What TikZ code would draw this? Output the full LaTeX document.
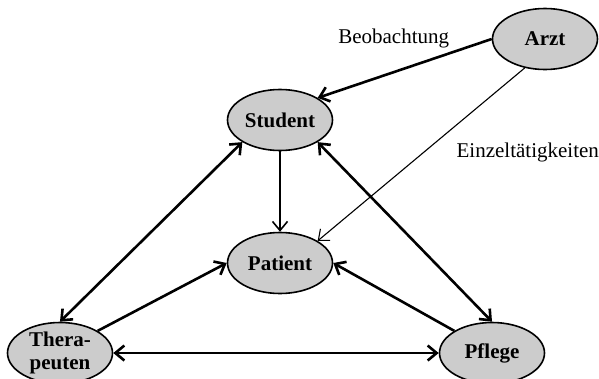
\documentclass[tikz,border=0pt]{standalone}
\usepackage{fontspec}
\setmainfont{Liberation Serif}
\usetikzlibrary{arrows.meta,shapes.geometric}

\begin{document}
\begin{tikzpicture}[x=1pt,y=-1pt,
    >={Straight Barb[length=9pt,width=15pt]},
    rolle/.style={ellipse,draw,line width=1.6pt,fill=black!20,
      minimum width=105pt,minimum height=61pt,inner sep=0pt,
      font=\fontsize{21}{23}\selectfont\bfseries,align=center},
    pfeil/.style={line width=2.6pt},
    beschr/.style={font=\fontsize{21}{22}\selectfont,inner sep=3pt}]
  \useasboundingbox (0,0) rectangle (599,378);

  \node[rolle] (arzt)    at (545,39)  {Arzt};
  \node[rolle] (student) at (280,120) {Student};
  \node[rolle] (patient) at (280,263) {Patient};
  \node[rolle] (therap)  at (60,353)  {Thera-\\peuten};
  \node[rolle] (pflege)  at (492,353) {Pflege};

  \draw[pfeil,->] (arzt.west) -- node[beschr,pos=0.22,anchor=south east] {Beobachtung} (student.north east);
  \draw[line width=1.1pt,->] (arzt.235) -- node[beschr,pos=0.486,anchor=west,xshift=29pt] {Einzeltätigkeiten} (patient.north east);
  \draw[line width=1.6pt,->] (student) -- (patient);

  \draw[pfeil,<->] (student.south west) -- (therap.north);
  \draw[pfeil,<->] (student.south east) -- (pflege.north);
  \draw[pfeil,<->] (therap) -- (pflege);

  \draw[pfeil,->] (therap.north east) -- (patient.west);
  \draw[pfeil,->] (pflege.north west) -- (patient.east);
\end{tikzpicture}
\end{document}
